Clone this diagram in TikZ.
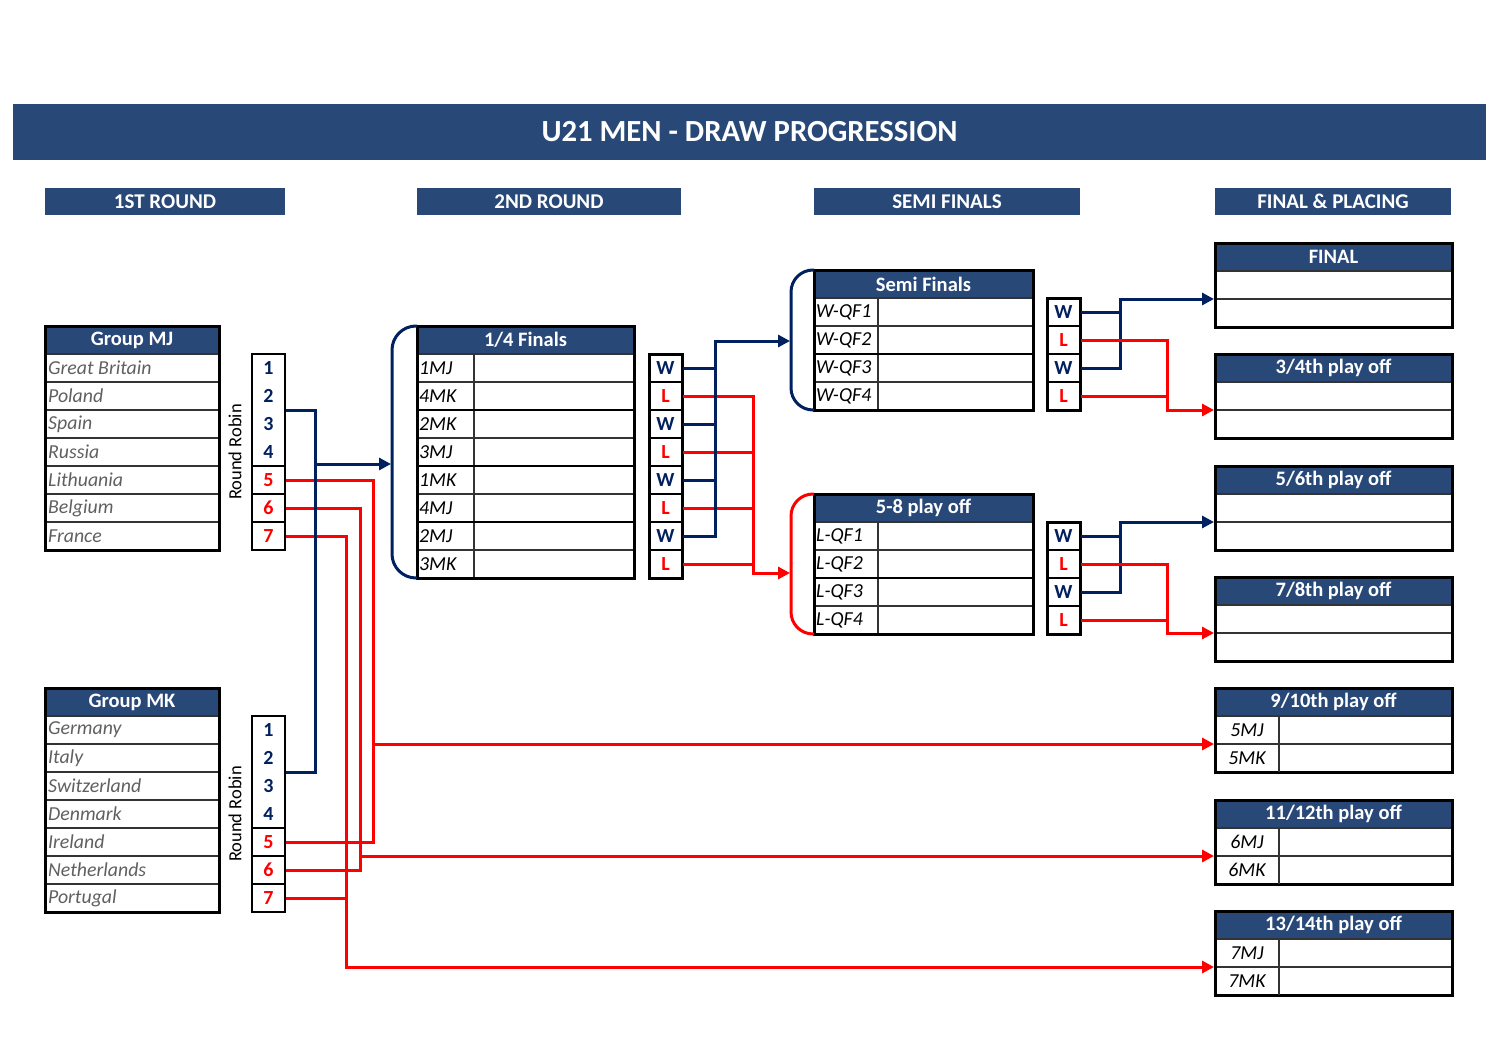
\documentclass[tikz,border=0pt]{standalone}
\usepackage{fontspec}
\setmainfont{Carlito}
\usetikzlibrary{arrows.meta}
\definecolor{hdr}{HTML}{284878}
\definecolor{navy}{HTML}{002060}
\definecolor{rd}{HTML}{FF0000}
\definecolor{gtxt}{HTML}{606060}
\tikzset{
 outerbox/.style={draw=black, line width=3pt},
 rowrule/.style={draw=black!80, line width=1.3pt},
 thickrule/.style={draw=black, line width=2.6pt},
 hdrtext/.style={text=white, font=\fontsize{20.5}{22}\selectfont\bfseries, inner sep=0pt},
 titlebar/.style={fill=hdr, text=white, font=\fontsize{30.7}{32}\selectfont\bfseries, minimum width=1473pt, minimum height=56pt, inner sep=0pt},
 secbar/.style={fill=hdr, text=white, font=\fontsize{21}{23}\selectfont\bfseries, minimum height=27pt, inner sep=0pt},
 country/.style={text=gtxt, font=\fontsize{19.8}{21}\selectfont\itshape, anchor=west, inner sep=0pt},
 lbl/.style={text=black, font=\fontsize{19.8}{21}\selectfont\itshape, anchor=west, inner sep=0pt},
 lblc/.style={text=black, font=\fontsize{19.8}{21}\selectfont\itshape, inner sep=0pt},
 cell/.style={draw=black, line width=1.3pt, minimum width=33pt, minimum height=28pt, inner sep=0pt, font=\fontsize{20}{22}\selectfont\bfseries},
 wcell/.style={cell, text=navy},
 lcell/.style={cell, text=rd},
 num/.style={font=\fontsize{20}{22}\selectfont\bfseries, inner sep=0pt},
 rrtext/.style={font=\fontsize{18.5}{20}\selectfont, inner sep=0pt, rotate=90},
 bl/.style={draw=navy, line width=3pt},
 rl/.style={draw=rd, line width=3pt},
 tip/.style={-{Triangle[length=12pt,width=12pt]}},
}
% #1 name, #2 left x, #3 top y, #4 right x, #5 rows, #6 header
\newcommand\mktable[6]{%
 \fill[hdr] (#2,#3) rectangle (#4,#3+28);
 \node[hdrtext] (#1-h) at ({(#2+#4)/2},#3+14) {#6};
 \foreach \i in {1,...,#5} {\draw[rowrule] (#2,#3+28*\i) -- (#4,#3+28*\i);}
 \draw[outerbox] (#2,#3) rectangle (#4,#3+28+28*#5);
}
% #1 name, #2 top y of first row
\newcommand\rrbox[2]{%
 \node[cell, minimum height=112pt] (#1) at (268.5,#2+56) {};
 \foreach \n in {1,...,4} {\node[num,text=navy] (#1n\n) at (268.5,#2+28*\n-14) {\n};}
 \node[lcell] (#15) at (268.5,#2+126) {5};
 \node[lcell] (#16) at (268.5,#2+154) {6};
 \node[lcell] (#17) at (268.5,#2+182) {7};
 \draw[line width=2pt] (252,#2) rectangle (285,#2+196);
 \node[rrtext] (#1t) at (235,#2+98) {Round Robin};
}
\begin{document}
\begin{tikzpicture}[x=1pt,y=-1pt]
\useasboundingbox (0,0) rectangle (1500,1060);
\fill[white] (0,0) rectangle (1500,1060);

% title and section headers
\node[titlebar] (title) at (749.5,132) {U21 MEN - DRAW PROGRESSION};
\node[secbar, minimum width=240pt] (sec1) at (165,201.5) {1ST ROUND};
\node[secbar, minimum width=264pt] (sec2) at (549,201.5) {2ND ROUND};
\node[secbar, minimum width=266pt] (sec3) at (947,201.5) {SEMI FINALS};
\node[secbar, minimum width=236pt] (sec4) at (1333,201.5) {FINAL \& PLACING};

% groups
\mktable{gmj}{45}{326}{219}{7}{Group MJ}
\foreach \t [count=\i] in {Great Britain,Poland,Spain,Russia,Lithuania,Belgium,France}
  {\node[country] (mj\i) at (48,340+28*\i) {\t};}
\mktable{gmk}{45}{688}{219}{7}{Group MK}
\foreach \t [count=\i] in {Germany,Italy,Switzerland,Denmark,Ireland,Netherlands,Portugal}
  {\node[country] (mk\i) at (48,702+28*\i) {\t};}
\rrbox{rrA}{354}
\rrbox{rrB}{716}

% quarter finals
\mktable{qf}{417}{326}{634}{8}{1/4 Finals}
\draw[rowrule] (474,354) -- (474,578);
\foreach \yy in {410,466,522} {\draw[thickrule] (417,\yy) -- (634,\yy);}
\draw[outerbox] (417,326) rectangle (634,578);
\foreach \t [count=\i] in {1MJ,4MK,2MK,3MJ,1MK,4MJ,2MJ,3MK}
  {\node[lbl] (qfl\i) at (419,340+28*\i) {\t};}
\foreach \i in {1,...,4} {
  \node[wcell] (qw\i) at (665.5,368+56*\i-56) {W};
  \node[lcell] (ql\i) at (665.5,396+56*\i-56) {L};
}
\draw[outerbox] (649,354) rectangle (682,578);
\draw[bl, rounded corners=24pt] (417,326) -- (392,326) -- (392,578) -- (417,578);

% semi finals
\mktable{sf}{814}{270}{1033}{4}{Semi Finals}
\draw[rowrule] (878,298) -- (878,410);
\draw[thickrule] (814,354) -- (1033,354);
\draw[outerbox] (814,270) rectangle (1033,410);
\foreach \t [count=\i] in {W-QF1,W-QF2,W-QF3,W-QF4}
  {\node[lbl] (sfl\i) at (816,284+28*\i) {\t};}
\foreach \i in {1,2} {
  \node[wcell] (sw\i) at (1063.5,312+56*\i-56) {W};
  \node[lcell] (sl\i) at (1063.5,340+56*\i-56) {L};
}
\draw[outerbox] (1047,298) rectangle (1080,410);
\draw[bl, rounded corners=22pt] (814,270) -- (791,270) -- (791,410) -- (814,410);

% 5-8 play off
\mktable{po}{814}{494}{1033}{4}{5-8 play off}
\draw[rowrule] (878,522) -- (878,634);
\draw[thickrule] (814,578) -- (1033,578);
\draw[outerbox] (814,494) rectangle (1033,634);
\foreach \t [count=\i] in {L-QF1,L-QF2,L-QF3,L-QF4}
  {\node[lbl] (pol\i) at (816,508+28*\i) {\t};}
\foreach \i in {1,2} {
  \node[wcell] (pw\i) at (1063.5,536+56*\i-56) {W};
  \node[lcell] (pl\i) at (1063.5,564+56*\i-56) {L};
}
\draw[outerbox] (1047,522) rectangle (1080,634);
\draw[rl, rounded corners=22pt] (814,494) -- (791,494) -- (791,634) -- (814,634);

% final and placing tables
\mktable{fin}{1215}{243}{1452}{2}{FINAL}
\mktable{p34}{1215}{354}{1452}{2}{3/4th play off}
\mktable{p56}{1215}{466}{1452}{2}{5/6th play off}
\mktable{p78}{1215}{577}{1452}{2}{7/8th play off}
\mktable{p910}{1215}{688}{1452}{2}{9/10th play off}
\mktable{p1112}{1215}{800}{1452}{2}{11/12th play off}
\mktable{p1314}{1215}{911}{1452}{2}{13/14th play off}
\draw[rowrule] (1279,716) -- (1279,772);
\draw[rowrule] (1279,828) -- (1279,884);
\draw[rowrule] (1279,939) -- (1279,995);
\node[lblc] (l5a) at (1247,730) {5MJ};
\node[lblc] (l5b) at (1247,758) {5MK};
\node[lblc] (l6a) at (1247,842) {6MJ};
\node[lblc] (l6b) at (1247,870) {6MK};
\node[lblc] (l7a) at (1247,953) {7MJ};
\node[lblc] (l7b) at (1247,981) {7MK};

% connector points
\coordinate (gv) at (315,464);
\coordinate (qfbrk) at (391,464);
\coordinate (r5) at (373,744);
\coordinate (r6) at (360,856);
\coordinate (r7) at (346,967);
\coordinate (in910) at (1214,744);
\coordinate (in1112) at (1214,856);
\coordinate (in1314) at (1214,967);
\coordinate (qbj) at (715,341);
\coordinate (sbrk) at (790,341);
\coordinate (qrj) at (753,573);
\coordinate (pbrk) at (790,573);
\coordinate (fj) at (1120,299);
\coordinate (finin) at (1214,299);
\coordinate (tj) at (1167,410);
\coordinate (thin) at (1214,410);
\coordinate (fj2) at (1120,522);
\coordinate (fivin) at (1214,522);
\coordinate (tj2) at (1167,633);
\coordinate (sevin) at (1214,633);

% group connectors
\draw[rl, tip] (rrA7.east) -| (r7) -- (in1314);
\draw[rl] (rrB7.east) -- (rrB7.east -| r7);
\draw[rl, tip] (rrA6.east) -| (r6) -- (in1112);
\draw[rl] (rrB6.east) -| (r6);
\draw[rl, tip] (rrA5.east) -| (r5) -- (in910);
\draw[rl] (rrB5.east) -| (r5);
\draw[bl] (rrA.east) -| (gv) |- (rrB.east);
\draw[bl, tip] (gv) -- (qfbrk);

% quarter final connectors
\draw[rl, tip] (ql1.east) -| (qrj) -- (pbrk);
\foreach \i in {2,3,4} {\draw[rl] (ql\i.east) -- (ql\i.east -| qrj);}
\draw[bl, tip] (qw4.east) -| (qbj) -- (sbrk);
\foreach \i in {1,2,3} {\draw[bl] (qw\i.east) -- (qw\i.east -| qbj);}

% semi final connectors
\draw[bl, tip] (sw2.east) -| (fj) -- (finin);
\draw[bl] (sw1.east) -- (sw1.east -| fj);
\draw[rl, tip] (sl1.east) -| (tj) -- (thin);
\draw[rl] (sl2.east) -- (sl2.east -| tj);

% 5-8 connectors
\draw[bl, tip] (pw2.east) -| (fj2) -- (fivin);
\draw[bl] (pw1.east) -- (pw1.east -| fj2);
\draw[rl, tip] (pl1.east) -| (tj2) -- (sevin);
\draw[rl] (pl2.east) -- (pl2.east -| tj2);
\end{tikzpicture}
\end{document}
